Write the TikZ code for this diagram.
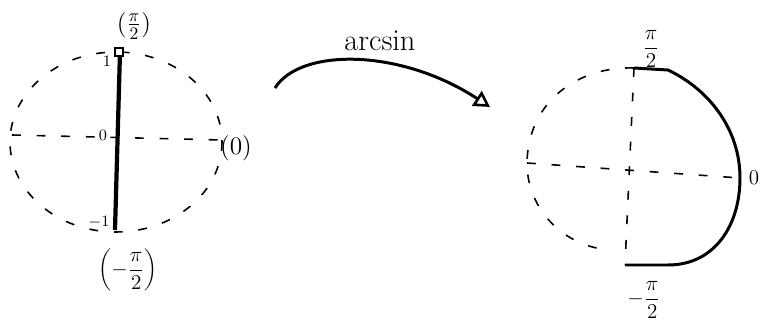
\documentclass[tikz,border=0pt]{standalone}
\usetikzlibrary{arrows.meta}
\begin{document}
\begin{tikzpicture}[x=0.02cm, y=-0.02cm,
  guide/.style={line width=0.9pt, dash pattern=on 5pt off 9pt},
  curve/.style={line width=1.7pt},
  lbl/.style={inner sep=1pt}]
\useasboundingbox (0,0) rectangle (765,324);
% left: the interval from -1 to 1
\coordinate (ltop) at (120,52);
\coordinate (lbot) at (115,230);
\coordinate (lleft) at (12,135);
\coordinate (lright) at (222,140);
\draw[guide] (116,142) ellipse [x radius=106, y radius=90];
\draw[guide] (lleft) -- (lright);
\draw[line width=2.4pt] (ltop) -- (lbot);
\draw[line width=1pt, fill=white] (115,48) rectangle (123,56);
\node[lbl, font=\small] (lone) at (107,61) {1};
\node[lbl, font=\small] (lzero) at (103,135) {0};
\node[lbl, font=\small] (lmone) at (99,222) {$-1$};
\node[lbl, font=\Large] (lpi) at (134,26) {$(\frac{\pi}{2})$};
\node[lbl, font=\large] (lmpi) at (128,270) {$\displaystyle\left(-\frac{\pi}{2}\right)$};
\node[lbl, font=\Large] (lnull) at (236,148) {(0)};
% arrow
\coordinate (asrc) at (275,88);
\coordinate (adst) at (490,107);
\draw[curve, -{Triangle[open, length=9pt, width=10pt, line width=1.5pt]}] (asrc) .. controls (300,48) and (400,48) .. (adst);
\node[lbl, font=\LARGE] (amap) at (380,41) {arcsin};
% right: the image from -pi/2 to pi/2
\coordinate (rtop) at (634,68);
\coordinate (rbot) at (625,265);
\coordinate (rleft) at (527,163);
\coordinate (rright) at (740,178);
\draw[guide] (rtop) .. controls (580,66) and (528,100) .. (rleft)
  .. controls (527,210) and (565,248) .. (612,250);
\draw[guide] (rleft) -- (rright);
\draw[guide] (rtop) -- (rbot);
\draw[curve] (rtop) -- (668,70) .. controls (710,90) and (740,130) .. (rright)
  .. controls (740,225) and (715,265) .. (668,265) -- (rbot);
\node[lbl, font=\large] (rpi) at (651,49) {$\displaystyle\frac{\pi}{2}$};
\node[lbl, font=\large] (rzero) at (754,178) {0};
\node[lbl, font=\large] (rmpi) at (644,300) {$\displaystyle-\frac{\pi}{2}$};
\end{tikzpicture}
\end{document}
